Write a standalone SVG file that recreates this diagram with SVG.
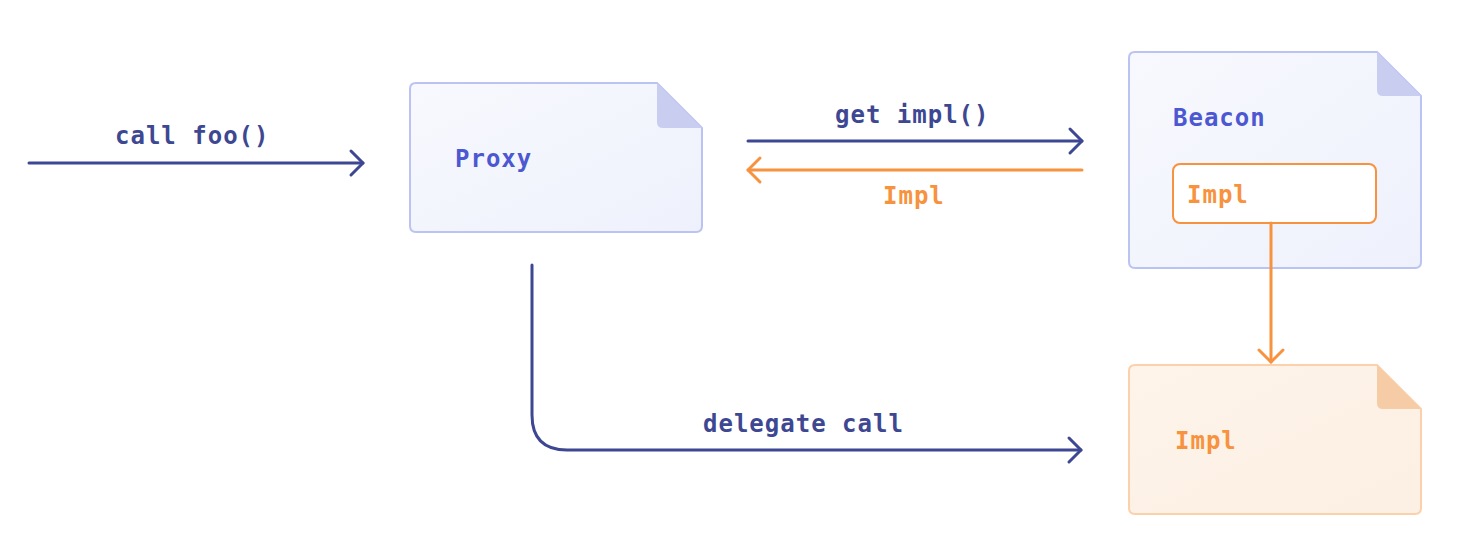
<svg xmlns="http://www.w3.org/2000/svg" width="1474" height="552" viewBox="0 0 1474 552">
<style>
.lbl{font-family:"DejaVu Sans Mono","Liberation Mono",monospace;font-weight:bold;font-size:24px;letter-spacing:1px}
.dk{fill:#3d4792}
.bl{fill:#4c58d2}
.or{fill:#f7923e}
.ln{fill:none;stroke-width:3;stroke-linecap:round}
.lnb{stroke:#3d4792}
.lno{stroke:#f7923e}
.docb{stroke:#bac3f2;stroke-width:2}
.foldb{fill:#c9cef1}
.doco{stroke:#fbd0aa;stroke-width:2}
.foldo{fill:#f6cca6}
</style>
<defs>
<linearGradient id="gb" x1="0" y1="0" x2="1" y2="1">
<stop offset="0" stop-color="#f8f9fe"/>
<stop offset="1" stop-color="#eef1fc"/>
</linearGradient>
<linearGradient id="go" x1="0" y1="0" x2="1" y2="1">
<stop offset="0" stop-color="#fef4ea"/>
<stop offset="1" stop-color="#fcefe3"/>
</linearGradient>
<marker id="ab" viewBox="-2 -2 16 28" markerWidth="16" markerHeight="28" refX="12" refY="12" orient="auto" markerUnits="userSpaceOnUse" overflow="visible">
<path d="M0,0 L12,12 L0,24" fill="none" stroke="#3d4792" stroke-width="3" stroke-linecap="round" stroke-linejoin="round"/>
</marker>
<marker id="ao" viewBox="-2 -2 16 28" markerWidth="16" markerHeight="28" refX="12" refY="12" orient="auto" markerUnits="userSpaceOnUse" overflow="visible">
<path d="M0,0 L12,12 L0,24" fill="none" stroke="#f7923e" stroke-width="3" stroke-linecap="round" stroke-linejoin="round"/>
</marker>
</defs>
<rect width="1474" height="552" fill="#ffffff"/>

<g id="proxy">
<path class="docb" fill="url(#gb)" d="M416,83 H657 L702,128 V226 Q702,232 696,232 H416 Q410,232 410,226 V89 Q410,83 416,83 Z"/>
<path class="foldb" d="M657,83 V122 Q657,128 663,128 H702 Z"/>
<text class="lbl bl" x="455" y="167">Proxy</text>
</g>

<g id="beacon">
<path class="docb" fill="url(#gb)" d="M1135,52 H1377 L1421,96 V262 Q1421,268 1415,268 H1135 Q1129,268 1129,262 V58 Q1129,52 1135,52 Z"/>
<path class="foldb" d="M1377,52 V90 Q1377,96 1383,96 H1421 Z"/>
<text class="lbl bl" x="1173" y="126">Beacon</text>
<g id="beacon-impl">
<rect x="1173" y="164" width="203" height="59" rx="7" fill="#ffffff" stroke="#f7923e" stroke-width="2"/>
<text class="lbl or" x="1187" y="203">Impl</text>
</g>
</g>

<g id="impl">
<path class="doco" fill="url(#go)" d="M1135,365 H1377 L1421,409 V508 Q1421,514 1415,514 H1135 Q1129,514 1129,508 V371 Q1129,365 1135,365 Z"/>
<path class="foldo" d="M1377,365 V403 Q1377,409 1383,409 H1421 Z"/>
<text class="lbl or" x="1175" y="449">Impl</text>
</g>

<g id="connectors">
<path class="ln lnb" d="M29,163 H363" marker-end="url(#ab)"/>
<text class="lbl dk" x="115" y="144">call foo()</text>
<path class="ln lnb" d="M748,141 H1082" marker-end="url(#ab)"/>
<text class="lbl dk" x="835" y="123">get impl()</text>
<path class="ln lno" d="M1082,170 H748" marker-end="url(#ao)"/>
<text class="lbl or" x="883" y="204">Impl</text>
<path class="ln lno" d="M1271,223 V362" marker-end="url(#ao)"/>
<path class="ln lnb" d="M532,265 V415 Q532,450 567,450 H1081" marker-end="url(#ab)"/>
<text class="lbl dk" x="703" y="432">delegate call</text>
</g>
</svg>
